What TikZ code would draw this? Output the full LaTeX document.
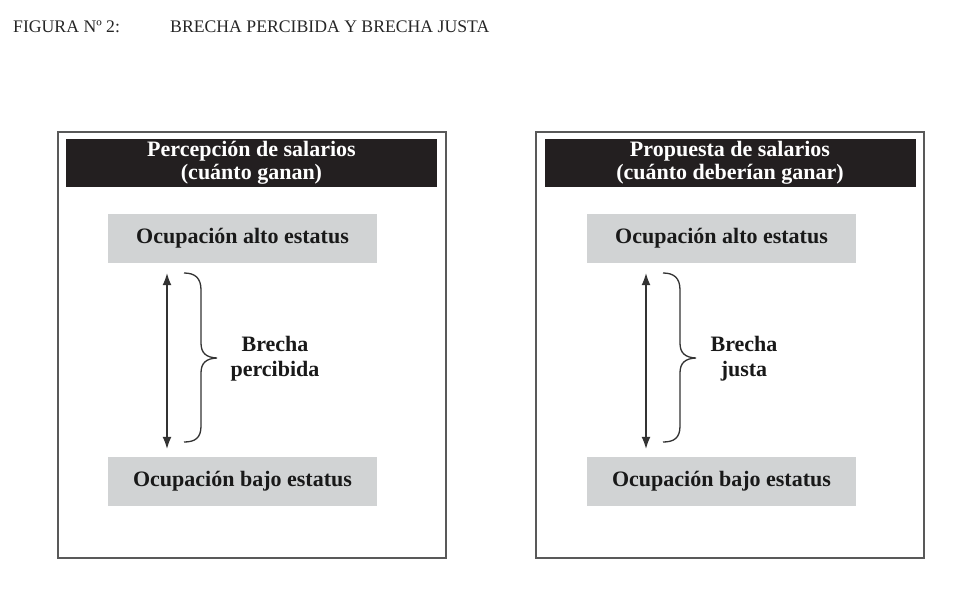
\documentclass[tikz,border=0pt]{standalone}
\usepackage{fontspec}
\setmainfont{Liberation Serif}
\usetikzlibrary{arrows.meta}
\definecolor{greybox}{HTML}{D1D3D4}
\definecolor{headblack}{HTML}{231F20}
\definecolor{lineg}{HTML}{333333}
\tikzset{
  frame/.style={draw=black!65, line width=1.6pt, fill=white},
  header/.style={fill=headblack, text=white, minimum width=371pt, minimum height=48pt, inner sep=0pt, align=center, font=\fontsize{22}{23}\selectfont\bfseries},
  occ/.style={fill=greybox, minimum width=269pt, minimum height=49pt, inner sep=0pt, font=\fontsize{22}{24}\selectfont\bfseries, text=black!90},
  gap/.style={draw=lineg, line width=1.2pt, {Latex[length=12pt,width=9pt]}-{Latex[length=12pt,width=9pt]}},
  bracepath/.style={draw=lineg, line width=1.3pt},
  gaplabel/.style={align=center, inner sep=0pt, font=\fontsize{22}{25}\selectfont\bfseries, text=black!90},
  titletext/.style={anchor=base west, inner sep=0pt, font=\fontsize{17.7}{20}\selectfont, text=black!85}
}
\begin{document}
\begin{tikzpicture}[x=1pt,y=-1pt]
\useasboundingbox (0,0) rectangle (960,602);
\node[titletext] (fig) at (13,33) {FIGURA Nº 2:};
\node[titletext] (tit) at (170,33) {BRECHA PERCIBIDA Y BRECHA JUSTA};

% left panel
\node[frame, minimum width=388pt, minimum height=426pt, inner sep=0pt] (lbox) at (252,345) {};
\node[header] (lhead) at (251.5,163) {Percepción de salarios\\(cuánto ganan)};
\node[occ] (lhigh) at (242.5,238.5) {Ocupación alto estatus};
\node[occ] (llow) at (242.5,481.5) {Ocupación bajo estatus};
\coordinate (lax) at (167,0);
\draw[gap, shorten <=10pt, shorten >=8pt] (lhigh.south -| lax) -- (llow.north -| lax);
\draw[bracepath] (184,273) .. controls (195,273) and (201,278) .. (201,290) -- (201,343)
  .. controls (201,353) and (206,357.5) .. (217,358)
  .. controls (206,358.5) and (201,363) .. (201,373) -- (201,426)
  .. controls (201,438) and (195,442) .. (184,442);
\node[gaplabel] (lgap) at (275,359) {Brecha\\percibida};

% right panel
\node[frame, minimum width=388pt, minimum height=426pt, inner sep=0pt] (rbox) at (730,345) {};
\node[header] (rhead) at (730,163) {Propuesta de salarios\\(cuánto deberían ganar)};
\node[occ] (rhigh) at (721.5,238.5) {Ocupación alto estatus};
\node[occ] (rlow) at (721.5,481.5) {Ocupación bajo estatus};
\coordinate (rax) at (646,0);
\draw[gap, shorten <=10pt, shorten >=8pt] (rhigh.south -| rax) -- (rlow.north -| rax);
\begin{scope}[xshift=479pt]
\draw[bracepath] (184,273) .. controls (195,273) and (201,278) .. (201,290) -- (201,343)
  .. controls (201,353) and (206,357.5) .. (217,358)
  .. controls (206,358.5) and (201,363) .. (201,373) -- (201,426)
  .. controls (201,438) and (195,442) .. (184,442);
\end{scope}
\node[gaplabel] (rgap) at (744,359) {Brecha\\justa};
\end{tikzpicture}
\end{document}
